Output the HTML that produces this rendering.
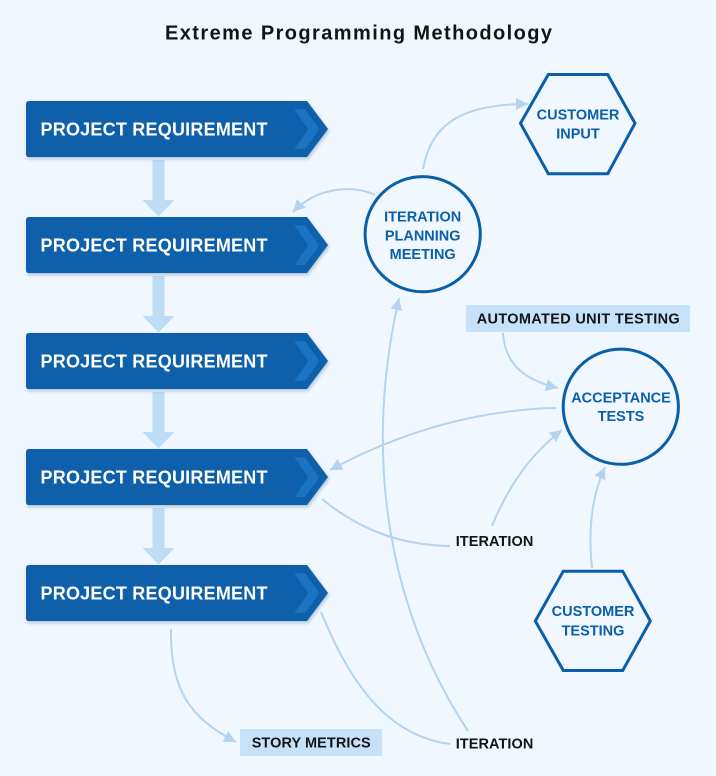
<!DOCTYPE html>
<html>
<head>
<meta charset="utf-8">
<style>
  html, body { margin:0; padding:0; background:#f0f7ff; }
  svg { display:block; }
  text { font-family: "Liberation Sans", sans-serif; font-weight: bold; }
</style>
</head>
<body>
<svg width="716" height="776" viewBox="0 0 716 776" xmlns="http://www.w3.org/2000/svg">
  <defs>
    <filter id="sh" x="-10%" y="-20%" width="120%" height="150%">
      <feDropShadow dx="1" dy="2" stdDeviation="1.5" flood-color="#0a3a66" flood-opacity="0.28"/>
    </filter>
    <marker id="ah" markerUnits="userSpaceOnUse" markerWidth="13" markerHeight="12" refX="12" refY="6" orient="auto">
      <path d="M0,0 L12,6 L0,12 Z" fill="#b3d3ef"/>
    </marker>
    <g id="box">
      <path d="M29,0 L307,0 L328,28 L307,56 L29,56 Q26,56 26,53 L26,3 Q26,0 29,0 Z" fill="#0a61a9" filter="url(#sh)"/>
      <path d="M294.3,8.3 L305,8.3 L319.3,28.3 L305,48 L294.3,48 L308.3,28.3 Z" fill="#1a74c3"/>
    </g>
    <g id="darr">
      <rect x="152.5" y="0" width="12" height="41" fill="#bddcf6"/>
      <path d="M142.5,40 L174.5,40 L158.5,56.5 Z" fill="#bddcf6"/>
    </g>
  </defs>

  <rect width="716" height="776" fill="#f0f7ff"/>

  <!-- Title -->
  <text x="165" y="39.3" font-size="20" fill="#141414" textLength="387" lengthAdjust="spacing">Extreme Programming Methodology</text>

  <!-- down arrows -->
  <use href="#darr" y="160"/>
  <use href="#darr" y="276"/>
  <use href="#darr" y="392"/>
  <use href="#darr" y="508"/>

  <!-- connectors -->
  <g fill="none" stroke="#b3d3ef" stroke-width="2">
    <path d="M423,169 C431,125 460,104 528,104" marker-end="url(#ah)"/>
    <path d="M375,195 C355,185 318,186 293,212" marker-end="url(#ah)"/>
    <path d="M468,731 C395,620 360,470 399,298" marker-end="url(#ah)"/>
    <path d="M503,333 C505,365 525,380 558,388" marker-end="url(#ah)"/>
    <path d="M556,408 C470,410 395,435 330,470" marker-end="url(#ah)"/>
    <path d="M492,526 C509,485 530,455 562,430" marker-end="url(#ah)"/>
    <path d="M592,568 C588,530 592,495 605,467" marker-end="url(#ah)"/>
    <path d="M171,629 C170,690 190,718 236,742" marker-end="url(#ah)"/>
    <path d="M322,499 C360,530 400,545 450,546"/>
    <path d="M321,612 C345,670 380,735 450,744"/>
  </g>

  <!-- project requirement boxes -->
  <g>
    <use href="#box" y="101"/>
    <use href="#box" y="217"/>
    <use href="#box" y="333"/>
    <use href="#box" y="449"/>
    <use href="#box" y="565"/>
  </g>
  <g font-size="18" fill="#ffffff">
    <text x="40.5" y="135.7" textLength="227" lengthAdjust="spacing">PROJECT REQUIREMENT</text>
    <text x="40.5" y="251.7" textLength="227" lengthAdjust="spacing">PROJECT REQUIREMENT</text>
    <text x="40.5" y="367.7" textLength="227" lengthAdjust="spacing">PROJECT REQUIREMENT</text>
    <text x="40.5" y="483.7" textLength="227" lengthAdjust="spacing">PROJECT REQUIREMENT</text>
    <text x="40.5" y="599.7" textLength="227" lengthAdjust="spacing">PROJECT REQUIREMENT</text>
  </g>

  <!-- Customer input hexagon -->
  <polygon points="548.3,74.5 607.7,74.5 635,123.3 607.7,173.8 548.3,173.8 520.5,123.3" fill="none" stroke="#0a5fa8" stroke-width="3"/>
  <!-- Iteration planning circle -->
  <circle cx="422.7" cy="234.2" r="57.6" fill="none" stroke="#0a5fa8" stroke-width="3"/>
  <!-- Acceptance tests circle -->
  <circle cx="620.8" cy="406.7" r="57.6" fill="none" stroke="#0a5fa8" stroke-width="3"/>
  <!-- Customer testing hexagon -->
  <polygon points="563.3,571.2 622.7,571.2 650.3,621 622.7,670.5 563.3,670.5 535.3,621" fill="none" stroke="#0a5fa8" stroke-width="3"/>

  <g font-size="14.5" fill="#0b5fa7" text-anchor="middle">
    <text x="578" y="119.3">CUSTOMER</text>
    <text x="578" y="138.3">INPUT</text>
    <text x="422.7" y="221.7">ITERATION</text>
    <text x="422.7" y="240.3">PLANNING</text>
    <text x="422.7" y="259">MEETING</text>
    <text x="621" y="402.3">ACCEPTANCE</text>
    <text x="621" y="421">TESTS</text>
    <text x="593" y="616">CUSTOMER</text>
    <text x="593" y="635.3">TESTING</text>
  </g>

  <!-- labels -->
  <rect x="466" y="305" width="224" height="27" fill="#c6e2fb"/>
  <text x="476.7" y="323.3" font-size="14.5" fill="#141414" textLength="203" lengthAdjust="spacing">AUTOMATED UNIT TESTING</text>

  <rect x="240" y="729" width="142" height="27" fill="#c6e2fb"/>
  <text x="251.7" y="747.3" font-size="14.5" fill="#141414" textLength="119" lengthAdjust="spacing">STORY METRICS</text>

  <text x="455.7" y="545.8" font-size="14.5" fill="#141414" textLength="77.6" lengthAdjust="spacing">ITERATION</text>
  <text x="455.7" y="748.3" font-size="14.5" fill="#141414" textLength="77.6" lengthAdjust="spacing">ITERATION</text>
</svg>
</body>
</html>
